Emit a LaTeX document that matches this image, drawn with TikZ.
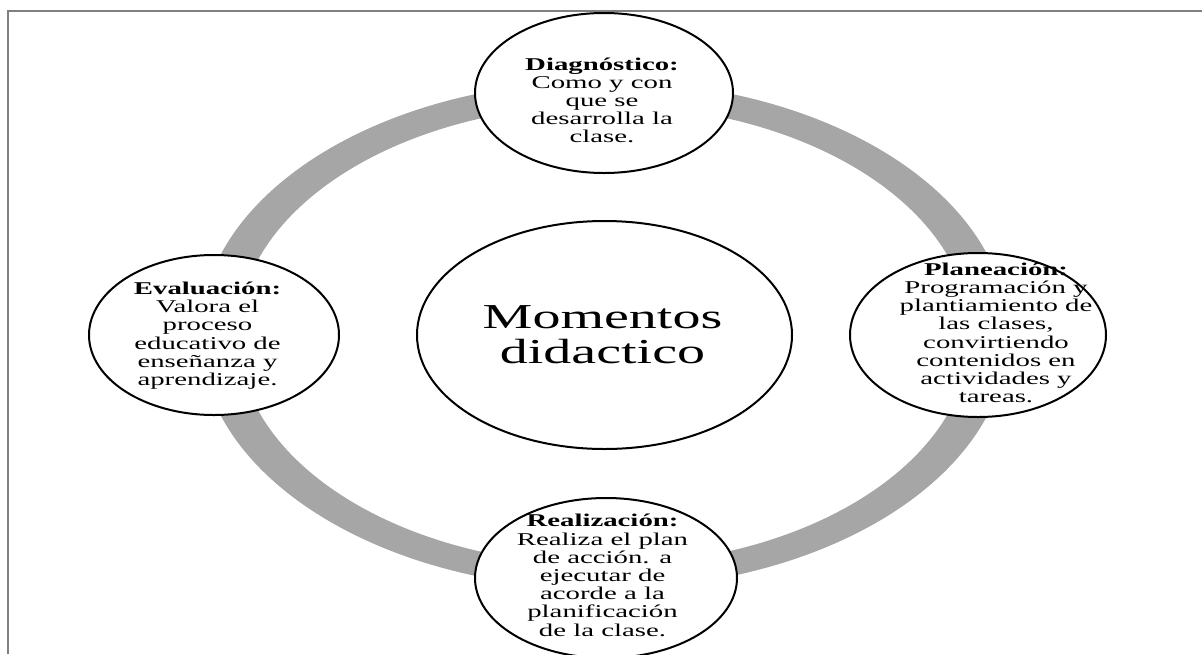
\documentclass[tikz,border=0pt]{standalone}
\usepackage{fontspec}
\usepackage{graphicx}
\setmainfont{Liberation Serif}
\usetikzlibrary{shapes.geometric}
\definecolor{ringgray}{HTML}{A6A6A6}
\definecolor{framegray}{HTML}{808080}
\newcommand\widetxt[1]{\scalebox{1.6}[1]{\begin{tabular}{@{}c@{}}#1\end{tabular}}}
\tikzset{
  bubble/.style={ellipse, draw=black, line width=2pt, fill=white, inner sep=0pt},
  smalltxt/.style={inner sep=0pt, font=\fontsize{18}{18.2}\selectfont},
  bigtxt/.style={inner sep=0pt, font=\fontsize{35}{35}\selectfont}
}
\begin{document}
\begin{tikzpicture}[x=1pt,y=-1pt]
\useasboundingbox (0,0) rectangle (1202,654);
\draw[framegray, line width=2pt] (8,654) -- (8,11) -- (1202,11);
\fill[ringgray, even odd rule] (604,335) ellipse [x radius=404pt, y radius=254pt]
                               (604,335) ellipse [x radius=366pt, y radius=230pt];
\node[bubble, minimum width=375pt, minimum height=228pt] (center) at (604.5,335) {};
\node[bubble, minimum width=258pt, minimum height=160pt] (diag) at (604,93) {};
\node[bubble, minimum width=250pt, minimum height=160pt] (eval) at (214,335) {};
\node[bubble, minimum width=256pt, minimum height=164pt] (plan) at (978,335) {};
\node[bubble, minimum width=262pt, minimum height=160pt] (real) at (606,578) {};
\node[bigtxt] (centertxt) at (602.5,338.5) {\widetxt{Momentos\\didactico}};
\node[smalltxt] (diagtxt) at (602,102.9) {\widetxt{\textbf{Diagnóstico:}\\Como y con\\que se\\desarrolla la\\clase.}};
\node[smalltxt] (evaltxt) at (207.5,336.4) {\widetxt{\textbf{Evaluación:}\\Valora el\\proceso\\educativo de\\enseñanza y\\aprendizaje.}};
\node[smalltxt] (plantxt) at (996,335.4) {\widetxt{\textbf{Planeación:}\\Programación y\\plantiamiento de\\las clases,\\convirtiendo\\contenidos en\\actividades y\\tareas.}};
\node[smalltxt] (realtxt) at (602.5,577.9) {\widetxt{\textbf{Realización:}\\Realiza el plan\\de acción. a\\ejecutar de\\acorde a la\\planificación\\de la clase.}};
\end{tikzpicture}
\end{document}
